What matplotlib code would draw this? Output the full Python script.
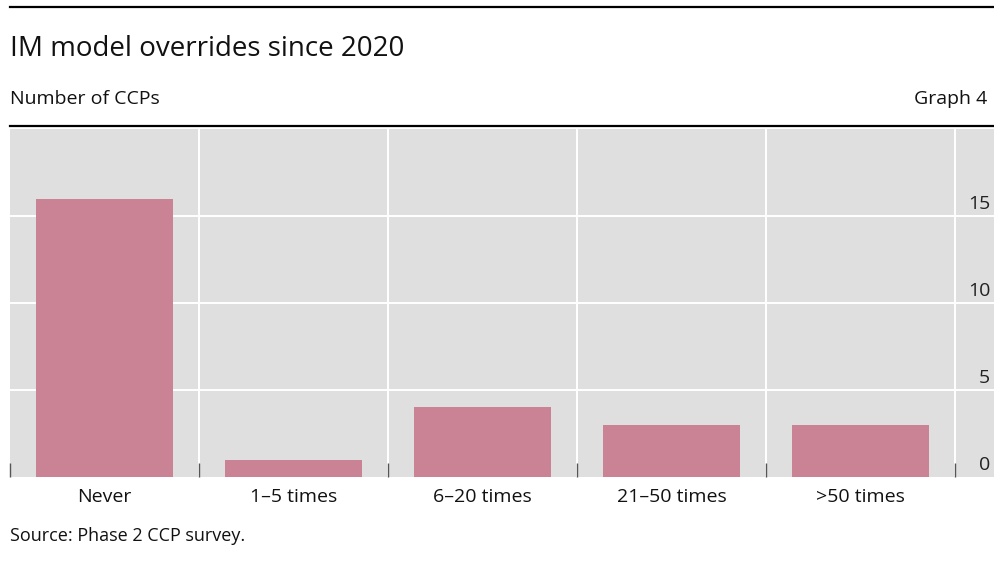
import matplotlib
matplotlib.use("Agg")
import matplotlib.pyplot as plt
import numpy as np

plt.rcParams["font.family"] = ["Open Sans", "DejaVu Sans"]

categories = ["Never", "1–5 times", "6–20 times", "21–50 times", ">50 times"]
counts = [16, 1, 4, 3, 3]
yticks = [0, 5, 10, 15]

BAR = "#c98395"
BG = "#dfdfdf"

fig = plt.figure(figsize=(9.95, 5.61), dpi=100)
W, H = 995, 561

# header rules and texts (pixel positions measured from the top)
fig.add_artist(plt.Line2D([10 / W, 1], [1 - 7 / H, 1 - 7 / H], color="black", lw=1.6))
fig.add_artist(plt.Line2D([10 / W, 1], [1 - 126 / H, 1 - 126 / H], color="black", lw=1.6))
fig.text(10 / W, 1 - 56 / H, "IM model overrides since 2020", fontsize=20,
         va="baseline", ha="left", color="#111111")
fig.text(10 / W, 1 - 104 / H, "Number of CCPs", fontsize=14, va="baseline",
         ha="left", color="#111111")
fig.text(987 / W, 1 - 104 / H, "Graph 4", fontsize=14, va="baseline", ha="right",
         color="#111111")
fig.text(10 / W, 1 - 541 / H, "Source: Phase 2 CCP survey.", fontsize=13,
         va="baseline", ha="left", color="#111111")

ax = fig.add_axes([10 / W, (H - 477) / H, 985 / W, (477 - 129) / H])
ax.set_facecolor(BG)
x = np.arange(len(categories))
ax.bar(x, counts, width=0.72, color=BAR, zorder=3)

ax.set_xlim(-0.5, -0.5 + 985 / 189)
ax.set_ylim(0, 20)

for s in ax.spines.values():
    s.set_visible(False)

bounds = np.arange(len(categories) + 1) - 0.5
for b in bounds[1:]:
    ax.axvline(b, color="white", lw=1.4, zorder=1)
for v in yticks[1:]:
    ax.axhline(v, color="white", lw=1.4, zorder=1)

ax.set_yticks([])
ax.set_xticks(x)
ax.set_xticklabels(categories, fontsize=14, color="#111111")
ax.tick_params(axis="x", length=0, pad=8)
ax.set_xticks(bounds, minor=True)
ax.tick_params(axis="x", which="minor", direction="in", length=10, width=1,
               color="#555555")

for v in yticks:
    ax.text(0.995, v + 0.4, str(v), transform=ax.get_yaxis_transform(),
            ha="right", va="baseline", fontsize=14, color="#222222")

fig.savefig("out.png", dpi=100)
